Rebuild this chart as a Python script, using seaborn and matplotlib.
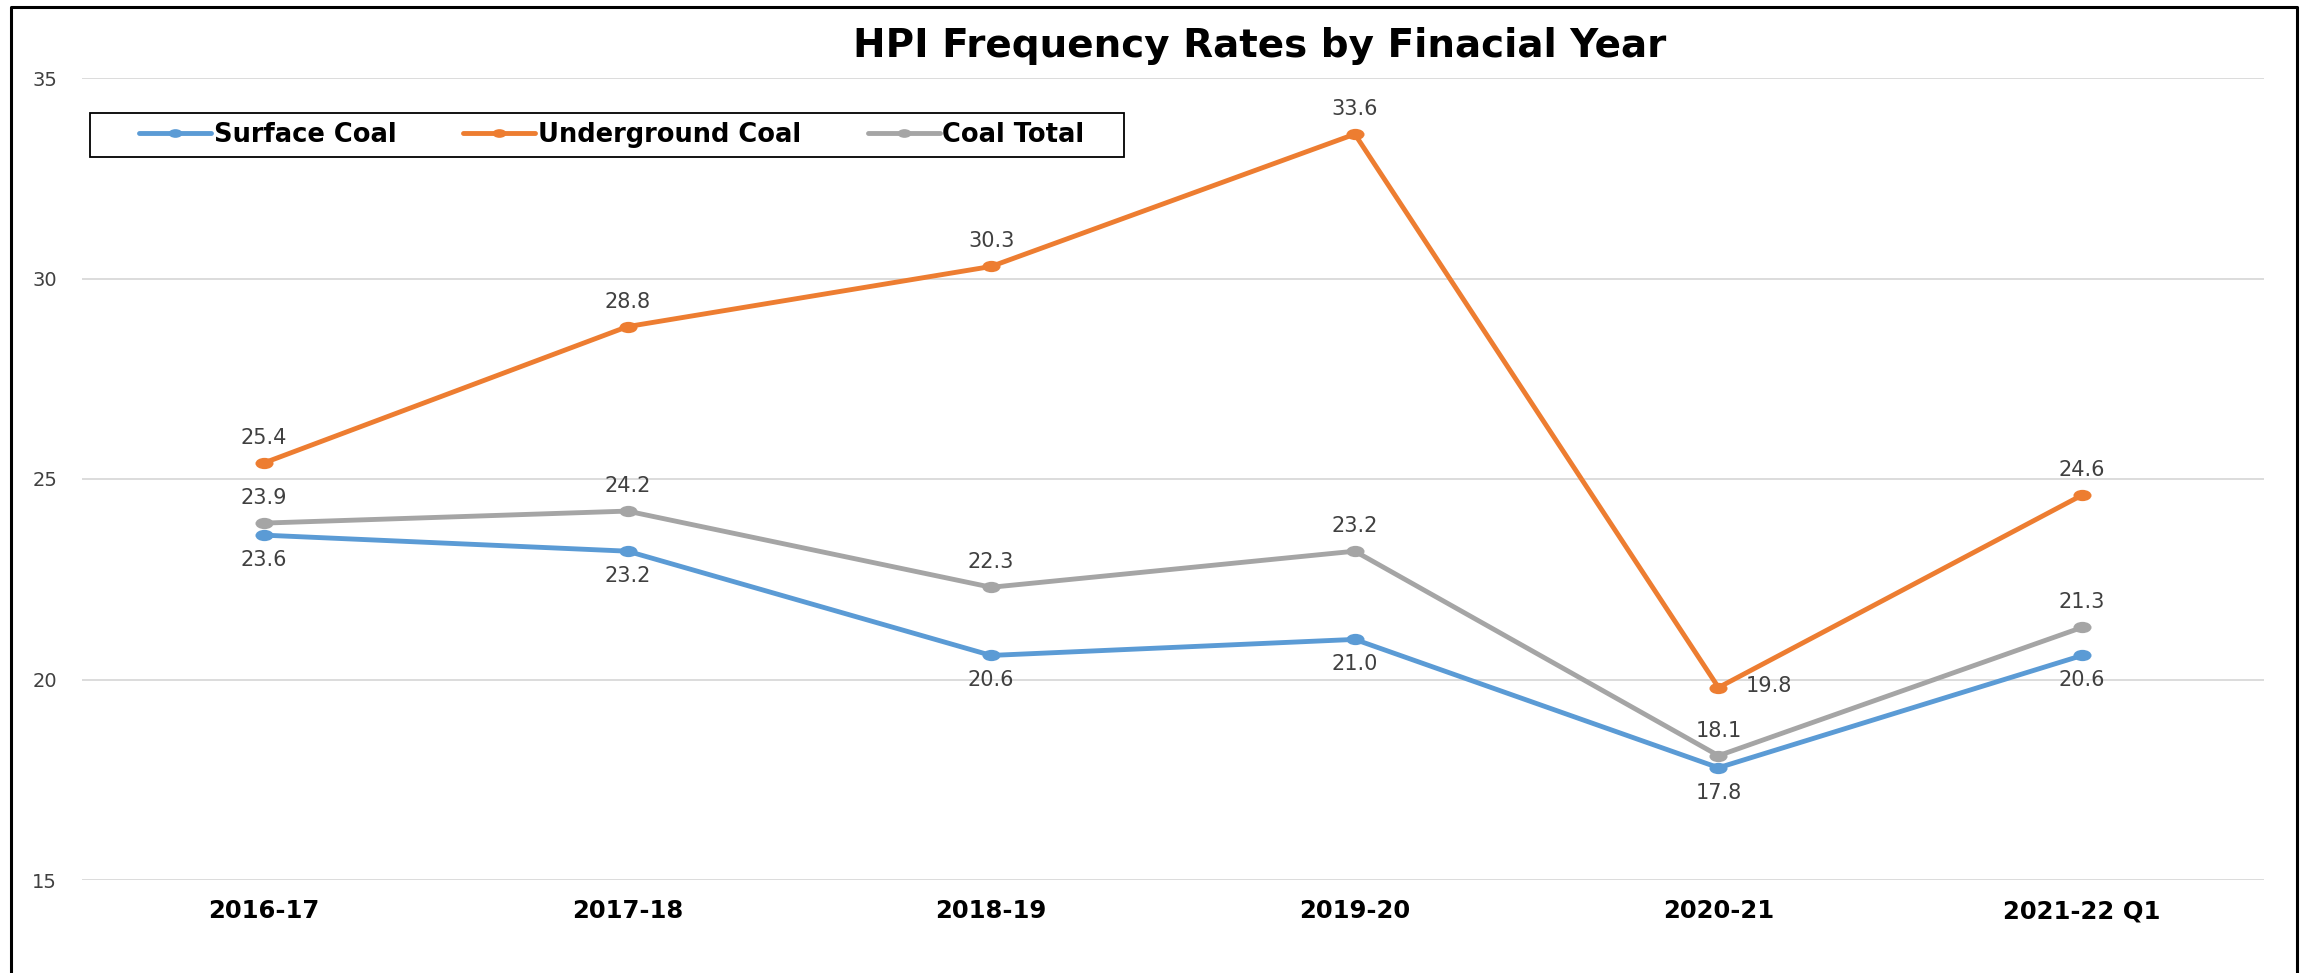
import numpy as np
import pandas as pd
import matplotlib
matplotlib.use("Agg")
import matplotlib.pyplot as plt
from matplotlib.lines import Line2D
from matplotlib.patches import Rectangle
from matplotlib.path import Path
from matplotlib.transforms import Affine2D
import seaborn as sns

# data
years = ["2016-17", "2017-18", "2018-19", "2019-20", "2020-21", "2021-22 Q1"]
surface = [23.6, 23.2, 20.6, 21.0, 17.8, 20.6]
underground = [25.4, 28.8, 30.3, 33.6, 19.8, 24.6]
total = [23.9, 24.2, 22.3, 23.2, 18.1, 21.3]

series_names = ["Surface Coal", "Underground Coal", "Coal Total"]
colors = ["#5B9BD5", "#ED7D31", "#A5A5A5"]

df = pd.DataFrame({
    "year": years * 3,
    "rate": surface + underground + total,
    "series": [s for s in series_names for _ in years],
})

sns.set_style("white")
plt.rcParams["font.family"] = ["DejaVu Sans"]

W, H = 2308, 973
fig = plt.figure(figsize=(W / 100, H / 100), dpi=100)
ax = fig.add_axes([82 / W, 1 - 880 / H, (2264 - 82) / W, (880 - 78) / H])

# the source picture is stretched sideways, so the dots are wide ellipses
ell = Path.unit_circle().transformed(Affine2D().scale(1.6, 1.0))

sns.lineplot(data=df, x="year", y="rate", hue="series", palette=colors,
             hue_order=series_names, marker=ell, markersize=13, markeredgewidth=0,
             linewidth=3.5, sort=False, ax=ax, legend=False)

ax.set_xlim(-0.5, len(years) - 0.5)
ax.set_ylim(15, 35)
ax.set_yticks([15, 20, 25, 30, 35])
ax.set_xlabel("")
ax.set_ylabel("")
ax.grid(axis="y", color="#D9D9D9", linewidth=1.3)
ax.set_axisbelow(True)
for s in ax.spines.values():
    s.set_visible(False)
ax.tick_params(axis="y", length=0, pad=18, labelsize=14, labelcolor="#404040")
ax.tick_params(axis="x", length=0, pad=14, labelsize=17.5, labelcolor="black")
for t in ax.get_xticklabels():
    t.set_fontweight("bold")

# data labels
lab = dict(fontsize=15, color="#404040", ha="center", va="center")
for i, v in enumerate(underground):
    if i == 4:
        ax.annotate(f"{v:.1f}", (i, v), xytext=(36, 1), textcoords="offset points", **lab)
    else:
        ax.annotate(f"{v:.1f}", (i, v), xytext=(0, 18), textcoords="offset points", **lab)
for i, v in enumerate(total):
    ax.annotate(f"{v:.1f}", (i, v), xytext=(0, 18), textcoords="offset points", **lab)
for i, v in enumerate(surface):
    ax.annotate(f"{v:.1f}", (i, v), xytext=(0, -18), textcoords="offset points", **lab)

# legend box drawn by hand, legend itself placed inside without frame
fig.add_artist(Rectangle((90 / W, 1 - 157 / H), (1124 - 90) / W, 44 / H,
                         transform=fig.transFigure, fill=False,
                         edgecolor="black", lw=1.3))
handles = [Line2D([], [], color=c, lw=3.5, marker=ell, markersize=10, markeredgewidth=0)
           for c in colors]
fig.legend(handles, series_names, ncol=3, loc="center",
           bbox_to_anchor=(612 / W, 1 - 135 / H), frameon=False,
           handlelength=2.8, handletextpad=0.1, columnspacing=2.6,
           labelcolor="black", prop={"weight": "bold", "size": 18.5})

fig.text(1260 / W, 1 - 57 / H, "HPI Frequency Rates by Finacial Year",
         ha="center", va="baseline", fontsize=28, fontweight="bold", color="black")

# chart border (no bottom edge in the reference)
fig.add_artist(Line2D([10.5 / W, 10.5 / W, 2296.5 / W, 2296.5 / W],
                      [0, 1 - 7 / H, 1 - 7 / H, 0],
                      transform=fig.transFigure, color="black", lw=2.2))

fig.savefig("out.png", dpi=100)
